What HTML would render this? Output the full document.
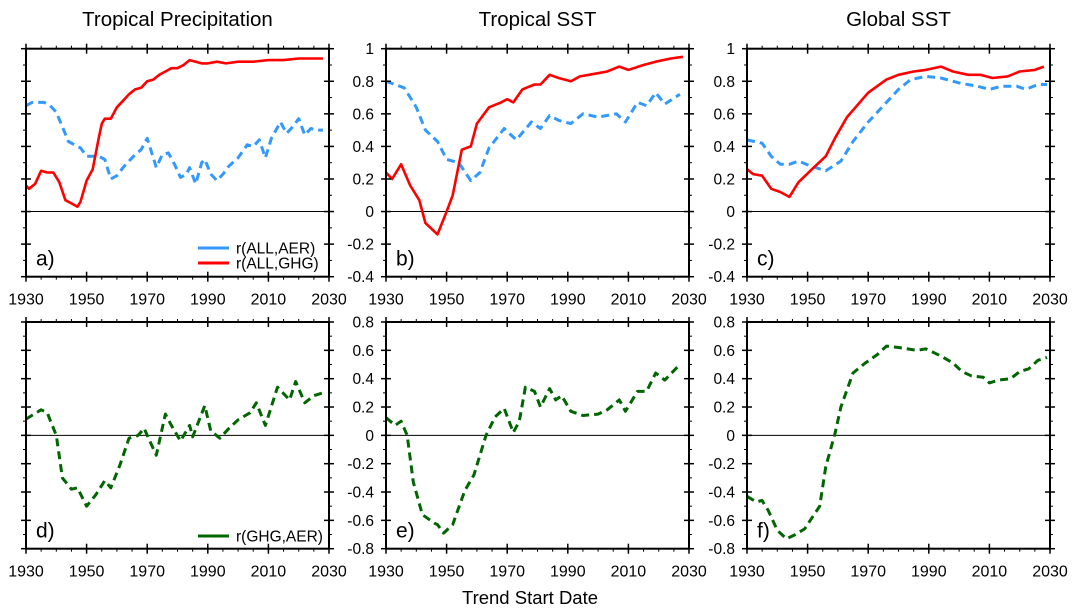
<!DOCTYPE html>
<html><head><meta charset="utf-8">
<style>
html,body{margin:0;padding:0;background:#fff;}
svg{display:block;font-family:"Liberation Sans",Arial,sans-serif;}
</style></head>
<body>
<svg id="fig" width="1077" height="615" viewBox="0 0 1077 615" xmlns="http://www.w3.org/2000/svg"></svg>
<script>
// ---- data (year, value) ----
const aRedYears=[1930,1931,1933,1935,1937,1939,1941,1943,1945,1947,1948,1950,1952,1954,1955,1956,1958,1960,1962,1964,1966,1968,1970,1972,1974,1976,1978,1980,1982,1984,1986,1988,1990,1993,1996,2000,2005,2010,2015,2020,2025,2028];
const aRedVals=[0.16,0.14,0.17,0.25,0.24,0.24,0.18,0.07,0.05,0.03,0.06,0.19,0.26,0.45,0.54,0.57,0.57,0.64,0.68,0.72,0.75,0.76,0.8,0.81,0.84,0.86,0.88,0.88,0.9,0.93,0.92,0.91,0.91,0.92,0.91,0.92,0.92,0.93,0.93,0.94,0.94,0.94];
const aBlueYears=[1930,1932,1936,1938,1940,1942,1944,1946,1948,1950,1952,1954,1956,1958,1960,1962,1964,1966,1968,1970,1972,1973,1975,1977,1979,1981,1983,1984,1986,1988,1989,1991,1993,1995,1997,2000,2003,2005,2007,2009,2011,2014,2016,2018,2020,2022,2024,2026,2028];
const aBlueVals=[0.65,0.67,0.67,0.65,0.61,0.52,0.43,0.41,0.39,0.34,0.34,0.34,0.32,0.2,0.22,0.27,0.31,0.35,0.38,0.45,0.33,0.27,0.35,0.36,0.29,0.21,0.23,0.27,0.17,0.3,0.32,0.23,0.19,0.23,0.28,0.33,0.41,0.4,0.44,0.33,0.45,0.55,0.48,0.52,0.57,0.47,0.51,0.5,0.5];
const bRedYears=[1930,1932,1935,1938,1941,1943,1947,1950,1952,1955,1958,1960,1964,1968,1970,1972,1975,1979,1981,1984,1987,1991,1994,1997,2003,2007,2010,2015,2019,2024,2028];
const bRedVals=[0.24,0.2,0.29,0.16,0.07,-0.07,-0.14,0.0,0.1,0.38,0.4,0.54,0.64,0.67,0.69,0.67,0.75,0.78,0.78,0.84,0.82,0.8,0.83,0.84,0.86,0.89,0.87,0.9,0.92,0.94,0.95];
const bBlueYears=[1930,1936,1940,1943,1947,1950,1954,1958,1961,1964,1969,1973,1978,1981,1984,1987,1991,1995,2000,2006,2009,2013,2016,2019,2022,2027];
const bBlueVals=[0.8,0.76,0.64,0.5,0.43,0.32,0.3,0.19,0.24,0.39,0.51,0.44,0.55,0.51,0.59,0.56,0.54,0.6,0.58,0.6,0.55,0.67,0.65,0.73,0.66,0.72];
const cRedYears=[1930,1932,1935,1938,1941,1944,1947,1952,1956,1959,1963,1970,1976,1980,1985,1989,1994,1998,2003,2007,2011,2016,2020,2025,2028];
const cRedVals=[0.26,0.23,0.22,0.14,0.12,0.09,0.18,0.27,0.34,0.45,0.58,0.73,0.81,0.84,0.86,0.87,0.89,0.86,0.84,0.84,0.82,0.83,0.86,0.87,0.89];
const cBlueYears=[1930,1935,1938,1941,1944,1947,1951,1956,1961,1965,1970,1975,1980,1984,1989,1994,2000,2006,2010,2014,2019,2022,2026,2029];
const cBlueVals=[0.44,0.42,0.34,0.29,0.29,0.31,0.28,0.25,0.31,0.43,0.55,0.65,0.75,0.81,0.83,0.82,0.79,0.77,0.75,0.77,0.77,0.75,0.78,0.78];
const dYears=[1930,1935,1937,1940,1942,1945,1947,1950,1953,1956,1958,1961,1964,1967,1969,1970,1973,1976,1978,1981,1984,1985,1989,1991,1994,1997,2000,2004,2006,2009,2013,2017,2019,2022,2025,2028];
const dVals=[0.115,0.18,0.16,0.0,-0.3,-0.38,-0.37,-0.5,-0.42,-0.32,-0.37,-0.21,-0.02,0.0,0.05,0.0,-0.14,0.15,0.07,-0.04,0.07,-0.01,0.21,0.03,-0.02,0.05,0.11,0.16,0.23,0.07,0.34,0.25,0.38,0.23,0.28,0.3];
const eYears=[1930,1933,1935,1937,1939,1942,1946,1947,1949,1952,1956,1959,1963,1966,1969,1972,1974,1976,1979,1981,1984,1986,1988,1991,1995,2000,2003,2007,2009,2013,2016,2019,2022,2027];
const eVals=[0.125,0.07,0.1,0.0,-0.33,-0.56,-0.62,-0.63,-0.69,-0.63,-0.39,-0.28,0.0,0.13,0.19,0.02,0.1,0.34,0.31,0.2,0.33,0.25,0.28,0.17,0.14,0.15,0.18,0.25,0.17,0.31,0.31,0.44,0.39,0.5];
const fYears=[1930,1933,1935,1937,1940,1943,1946,1949,1954,1956,1959,1961,1965,1969,1973,1976,1980,1983,1986,1989,1994,1998,2001,2004,2008,2010,2013,2017,2020,2023,2026,2029];
const fVals=[-0.43,-0.47,-0.46,-0.53,-0.67,-0.73,-0.7,-0.66,-0.5,-0.22,0.01,0.2,0.44,0.51,0.57,0.63,0.62,0.61,0.6,0.61,0.56,0.51,0.45,0.42,0.41,0.37,0.39,0.4,0.45,0.47,0.53,0.55];
const xTicks=[1930,1950,1970,1990,2010,2030];
const yTicksTop=[-0.4,-0.2,0,0.2,0.4,0.6,0.8,1];
const yTicksBot=[-0.8,-0.6,-0.4,-0.2,0,0.2,0.4,0.6,0.8];
const titles=["Tropical Precipitation","Tropical SST","Global SST"];

const NS="http://www.w3.org/2000/svg";
const svg=document.getElementById('fig');
function mk(tag,attrs,parent){const e=document.createElementNS(NS,tag);for(const k in attrs)e.setAttribute(k,attrs[k]);(parent||svg).appendChild(e);return e;}
const lefts=[26,386,747], W=303;
const rows=[{top:48.7,bot:276.7,min:-0.4,max:1,ticks:yTicksTop},{top:322,bot:548.7,min:-0.8,max:0.8,ticks:yTicksBot}];
const RED="#ff0000", BLUE="#3399ff", GREEN="#006600";
const panels=[
 {r:0,c:0,lab:"a)",series:[[aBlueYears,aBlueVals,BLUE,true],[aRedYears,aRedVals,RED,false]]},
 {r:0,c:1,lab:"b)",series:[[bBlueYears,bBlueVals,BLUE,true],[bRedYears,bRedVals,RED,false]]},
 {r:0,c:2,lab:"c)",series:[[cBlueYears,cBlueVals,BLUE,true],[cRedYears,cRedVals,RED,false]]},
 {r:1,c:0,lab:"d)",series:[[dYears,dVals,GREEN,true]]},
 {r:1,c:1,lab:"e)",series:[[eYears,eVals,GREEN,true]]},
 {r:1,c:2,lab:"f)",series:[[fYears,fVals,GREEN,true]]}
];
titles.forEach((t,i)=>{
 const e=mk('text',{x:lefts[i]+W/2,y:26,'text-anchor':'middle','font-size':20.5});
 
 
 e.textContent=t;
});
panels.forEach(p=>{
 const R=rows[p.r], L=lefts[p.c], Rt=L+W;
 const xs=y=>L+(y-1930)/100*W;
 const ys=v=>R.bot-(v-R.min)/(R.max-R.min)*(R.bot-R.top);
 const g=mk('g',{});
 
 
 mk('line',{x1:L,x2:Rt,y1:ys(0),y2:ys(0),stroke:'#000','stroke-width':1},g);
 p.series.forEach((s,si)=>{
  const d=s[0].map((yr,i)=>(i?'L':'M')+xs(yr).toFixed(1)+','+ys(s[1][i]).toFixed(1)).join(' ');
  const path=mk('path',{d:d,fill:'none',stroke:s[2],'stroke-width':s[3]?3:2.6,'stroke-linejoin':'round','stroke-dasharray':s[3]?'8,5':'none'},g);
  
  
 });
 mk('rect',{x:L,y:R.top,width:W,height:R.bot-R.top,fill:'none',stroke:'#000','stroke-width':2},g);
 for(let yr=1930;yr<=2030;yr+=5){
  const X=xs(yr), maj=(yr-1930)%20==0;
  if(maj){
   mk('line',{x1:X,x2:X,y1:R.top-5,y2:R.top+5,stroke:'#000','stroke-width':1.5},g);
   mk('line',{x1:X,x2:X,y1:R.bot-5,y2:R.bot+5,stroke:'#000','stroke-width':1.5},g);
  } else {
   mk('line',{x1:X,x2:X,y1:R.top-3,y2:R.top,stroke:'#000','stroke-width':1},g);
   mk('line',{x1:X,x2:X,y1:R.bot,y2:R.bot+3,stroke:'#000','stroke-width':1},g);
  }
 }
 xTicks.forEach(yr=>{
  const t=mk('text',{x:xs(yr),y:R.bot+28,'text-anchor':'middle','font-size':16},g);
  
  
  t.textContent=yr;
 });
 for(let v=R.min;v<=R.max+1e-6;v+=0.1){
  const Y=ys(v), maj=Math.abs(Math.round(v*10))%2==(Math.abs(Math.round(R.min*10))%2);
  if(maj){
   mk('line',{x1:L-5,x2:L+5,y1:Y,y2:Y,stroke:'#000','stroke-width':1.5},g);
   mk('line',{x1:Rt-5,x2:Rt+5,y1:Y,y2:Y,stroke:'#000','stroke-width':1.5},g);
  } else {
   mk('line',{x1:L-3,x2:L,y1:Y,y2:Y,stroke:'#000','stroke-width':1},g);
   mk('line',{x1:Rt,x2:Rt+3,y1:Y,y2:Y,stroke:'#000','stroke-width':1},g);
  }
 }
 if(p.c>0){
  R.ticks.forEach(v=>{
   const t=mk('text',{x:L-12,y:ys(v)+5.5,'text-anchor':'end','font-size':15.5},g);
   
   
   t.textContent=(Math.abs(v)<1e-9)?'0':String(+v.toFixed(1));
  });
 }
 const pl=mk('text',{x:L+10,y:R.bot-11,'font-size':21},g);
 
 
 pl.textContent=p.lab;
});
function legend(x,y,color,label,name){
 const g=mk('g',{});
 
 
 mk('line',{x1:x,x2:x+31,y1:y,y2:y,stroke:color,'stroke-width':3},g);
 const t=mk('text',{x:x+38,y:y+5.5,'font-size':15.5},g);
 t.textContent=label;
}
legend(198,248,BLUE,"r(ALL,AER)","legend-entry-all-aer");
legend(198,263,RED,"r(ALL,GHG)","legend-entry-all-ghg");
legend(198,536,GREEN,"r(GHG,AER)","legend-entry-ghg-aer");
const xt=mk('text',{x:530,y:604,'text-anchor':'middle','font-size':18.5});


xt.textContent="Trend Start Date";
</script>
</body></html>
